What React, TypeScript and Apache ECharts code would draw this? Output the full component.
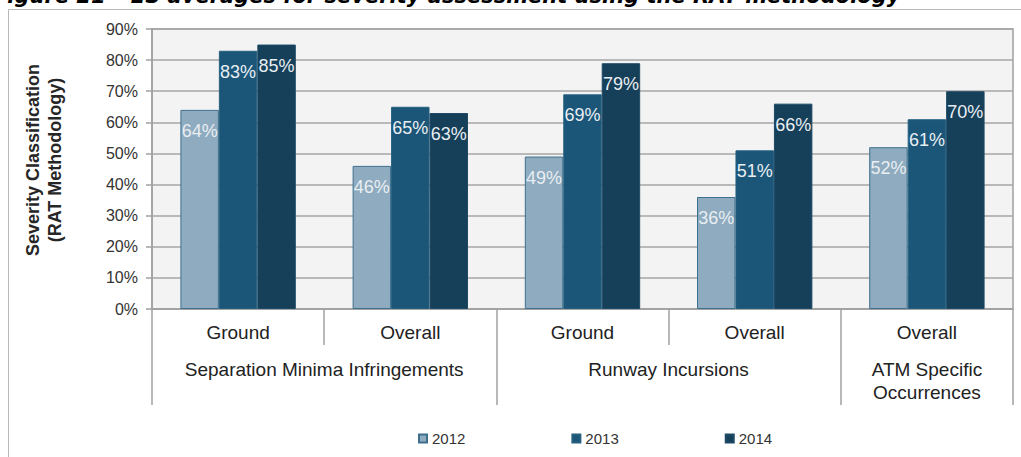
import React, { useEffect, useRef } from "react";
import * as echarts from "echarts";

const subCategories = ["Ground", "Overall", "Ground", "Overall", "Overall"];
const groupNames = ["Separation Minima Infringements", "Runway Incursions", "ATM Specific\nOccurrences"];
const groupCenters = [1, 3, 4.5];
const groupBounds = [0, 2, 4, 5];
const subBounds = [1, 3];
const years = ["2012", "2013", "2014"];
const values2012 = [64, 46, 49, 36, 52];
const values2013 = [83, 65, 69, 51, 61];
const values2014 = [85, 63, 79, 66, 70];
const yTicks = [0, 10, 20, 30, 40, 50, 60, 70, 80, 90];

const colors = ["#8eabbf", "#1b5679", "#163f59"];
const borders = ["#3e6f8d", "#25607f", "#1d4a66"];
const FONT = "'Liberation Sans', Arial, sans-serif";

export default function App() {
  const ref = useRef<HTMLDivElement>(null);
  useEffect(() => {
    if (!ref.current) return;
    const chart = echarts.init(ref.current, undefined, { renderer: "svg" });
    const seriesData = [values2012, values2013, values2014];
    chart.setOption({
      animation: false,
      backgroundColor: "#ffffff",
      textStyle: { fontFamily: FONT },
      graphic: [
        {
          type: "rect",
          shape: { x: 8.5, y: 9.5, width: 1100, height: 500 },
          style: { fill: "none", stroke: "#b8b8b8", lineWidth: 1 },
          silent: true,
          z: -10,
        },
        {
          type: "text",
          left: -7,
          top: -15,
          style: {
            text: "Figure 21 – ES averages for severity assessment using the RAT methodology",
            font: "italic bold 21px 'DejaVu Sans', Verdana, sans-serif",
            fill: "#000000",
          },
          silent: true,
        },
        {
          type: "text",
          x: 44,
          y: 160,
          rotation: Math.PI / 2,
          style: {
            text: "Severity Classification\n(RAT Methodology)",
            font: "bold 18px 'Liberation Sans', Arial, sans-serif",
            fill: "#262626",
            align: "center",
            verticalAlign: "middle",
            lineHeight: 22,
          },
          silent: true,
        },
      ],
      grid: {
        left: 152,
        right: 8,
        top: 29,
        bottom: 148,
        show: true,
        backgroundColor: "#f3f3f3",
        borderColor: "#a0a0a0",
        borderWidth: 1.5,
      },
      legend: {
        data: years,
        left: 413,
        top: 426,
        itemWidth: 8,
        itemHeight: 8,
        itemGap: 106,
        itemTextGap: 2,
        icon: "rect",
        textStyle: { fontSize: 15, color: "#333333", fontFamily: FONT },
      },
      xAxis: [
        {
          type: "category",
          data: subCategories,
          axisLine: { show: true, lineStyle: { color: "#a0a0a0", width: 1.5 } },
          axisTick: { show: false },
          axisLabel: { fontSize: 19, color: "#222222", margin: 14, fontFamily: FONT },
          splitLine: { show: false },
        },
        {
          type: "value",
          min: 0,
          max: 5,
          position: "bottom",
          axisLine: { show: false },
          axisTick: { show: true, customValues: subBounds, length: 36, lineStyle: { color: "#a0a0a0", width: 1.5 } },
          axisLabel: { show: false },
          splitLine: { show: false },
        },
        {
          type: "value",
          min: 0,
          max: 5,
          position: "bottom",
          axisLine: { show: false },
          axisTick: { show: true, customValues: groupBounds, length: 96, lineStyle: { color: "#a0a0a0", width: 1.5 } },
          axisLabel: {
            show: true,
            customValues: groupCenters,
            formatter: (v: number) => {
              const i = groupCenters.indexOf(v);
              return i >= 0 ? groupNames[i] : "";
            },
            fontSize: 19,
            lineHeight: 23,
            color: "#222222",
            margin: 49,
            fontFamily: FONT,
            verticalAlign: "top",
          },
          splitLine: { show: false },
        },
      ],
      yAxis: {
        type: "value",
        min: yTicks[0],
        max: yTicks[yTicks.length - 1],
        interval: 10,
        axisLine: { show: true, lineStyle: { color: "#a0a0a0", width: 1.5 } },
        axisTick: { show: true, length: 6, lineStyle: { color: "#a0a0a0", width: 1.5 } },
        axisLabel: { formatter: "{value}%", fontSize: 16, color: "#333333", margin: 14, fontFamily: FONT },
        splitLine: { show: true, lineStyle: { color: "#a6a6a6", width: 1.5 } },
      },
      series: years.map((y, i) => ({
        name: y,
        type: "bar",
        xAxisIndex: 0,
        data: seriesData[i],
        barGap: "0%",
        barCategoryGap: "33%",
        itemStyle: { color: colors[i], borderColor: borders[i], borderWidth: 1 },
        label: {
          show: true,
          position: "insideTop",
          distance: 12,
          formatter: "{c}%",
          color: "#e9eef2",
          fontSize: 18,
          fontFamily: FONT,
        },
      })),
    });
    return () => chart.dispose();
  }, []);
  return <div ref={ref} style={{ width: 1021, height: 457, position: "absolute", left: 0, top: 0 }} />;
}
